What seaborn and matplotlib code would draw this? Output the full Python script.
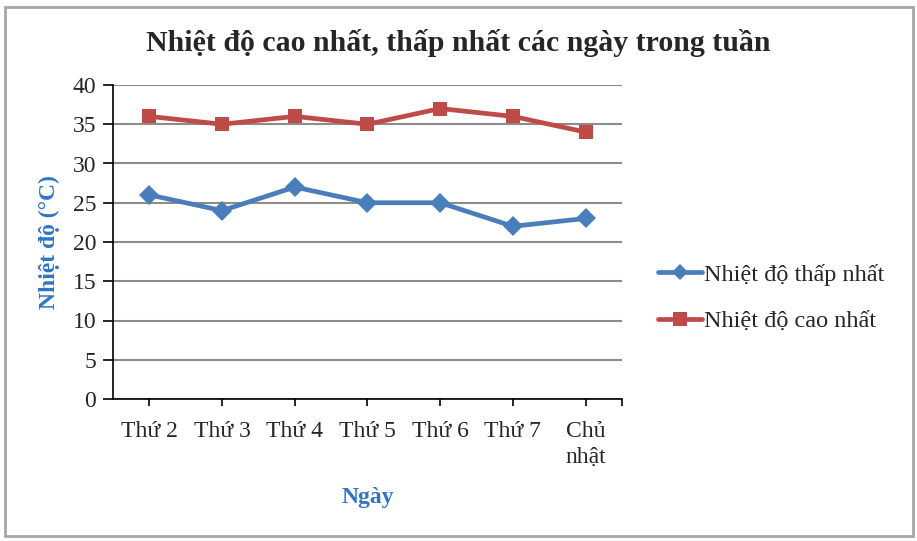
import matplotlib
matplotlib.use("Agg")
import matplotlib.pyplot as plt
import seaborn as sns
import pandas as pd
from matplotlib.patches import Rectangle
from matplotlib.lines import Line2D

days = ["Thứ 2", "Thứ 3", "Thứ 4", "Thứ 5", "Thứ 6", "Thứ 7", "Chủ\nnhật"]
low_temps = [26, 24, 27, 25, 25, 22, 23]
high_temps = [36, 35, 36, 35, 37, 36, 34]
series_names = ["Nhiệt độ thấp nhất", "Nhiệt độ cao nhất"]
y_ticks = [0, 5, 10, 15, 20, 25, 30, 35, 40]

sns.set_theme(style="white")
plt.rcParams["font.family"] = ["Liberation Serif", "DejaVu Serif"]

df = pd.DataFrame({
    "x": list(range(len(days))) * 2,
    "temp": low_temps + high_temps,
    "series": [series_names[0]] * len(days) + [series_names[1]] * len(days),
})

fig = plt.figure(figsize=(9.17, 5.41), dpi=100)
ax = fig.add_axes([113 / 917, 1 - 399 / 541, (622 - 113) / 917, (399 - 85) / 541])

palette = {series_names[0]: "#4A7EBB", series_names[1]: "#BE4B48"}
markers = {series_names[0]: "D", series_names[1]: "s"}
sns.lineplot(data=df, x="x", y="temp", hue="series", style="series",
             palette=palette, markers=markers, dashes=False, linewidth=3.4,
             markersize=10, markeredgewidth=0, ax=ax, legend=False, zorder=3)

ax.set_xlim(-0.5, 6.5)
ax.set_ylim(0, 40)
ax.set_yticks(y_ticks)
ax.set_yticklabels([str(v) for v in y_ticks], fontsize=17)
ax.set_xticks(range(len(days)))
ax.set_xticklabels(days, fontsize=17, linespacing=1.3)
ax.set_xticks([6.5], minor=True)
ax.yaxis.grid(True, color="#8C8C8C", linewidth=1.5)
ax.set_axisbelow(True)
for s in ["top", "right"]:
    ax.spines[s].set_visible(False)
for s in ["left", "bottom"]:
    ax.spines[s].set_color("black")
    ax.spines[s].set_linewidth(1.2)
ax.tick_params(axis="y", which="both", direction="out", length=7, width=1.2, color="black", pad=5, left=True)
ax.tick_params(axis="x", which="both", direction="out", length=5, width=1.2, color="black", pad=11, bottom=True)

ax.set_xlabel("Ngày", fontsize=17, fontweight="bold", color="#2E75C6", labelpad=14)
ax.set_ylabel("Nhiệt độ (°C)", fontsize=17, fontweight="bold", color="#2E75C6", labelpad=9)

fig.text(0.5, 1 - 43 / 541, "Nhiệt độ cao nhất, thấp nhất các ngày trong tuần",
         ha="center", va="center", fontsize=21.5, fontweight="bold")

handles = [
    Line2D([], [], color=palette[series_names[0]], lw=3.4, marker="D", markersize=8, markeredgewidth=0),
    Line2D([], [], color=palette[series_names[1]], lw=3.4, marker="s", markersize=10, markeredgewidth=0),
]
fig.legend(handles, series_names, loc="center left", bbox_to_anchor=(636 / 917, 1 - 298 / 541),
           frameon=False, fontsize=17.5, handlelength=1.8, handletextpad=0.1, labelspacing=1.0)

fig.patches.append(Rectangle((5 / 917, 1 - 536 / 541), 908 / 917, 529 / 541, transform=fig.transFigure,
                             fill=False, edgecolor="#A6A6A6", linewidth=2))

fig.savefig("out.png", dpi=100)
